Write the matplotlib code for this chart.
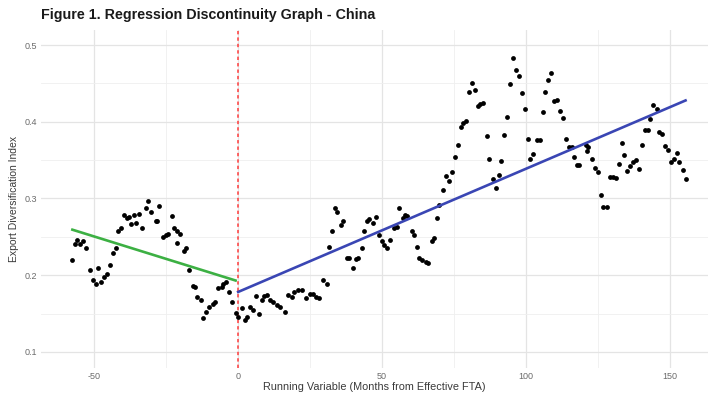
import numpy as np
import matplotlib
matplotlib.use("Agg")
import matplotlib.pyplot as plt
from matplotlib.ticker import MultipleLocator

plt.rcParams['font.family'] = ['Liberation Sans', 'DejaVu Sans']

# ---- data ----
months_pre = [-57.6, -56.7, -55.9, -54.9, -54.0, -52.9, -51.5, -50.3, -49.5, -48.6,
              -47.7, -46.5, -45.7, -44.5, -43.6, -42.4, -41.6, -40.8, -39.7, -38.7,
              -37.8, -37.2, -36.1, -35.5, -34.5, -33.5, -32.0, -31.2, -30.4, -28.7,
              -28.1, -27.4, -26.2, -25.1, -24.3, -23.1, -22.2, -21.4, -21.2, -20.2,
              -18.8, -18.1, -17.0, -15.8, -15.0, -14.2, -13.0, -12.1, -11.2, -10.0,
              -8.9, -8.1, -6.9, -5.7, -5.2, -4.3, -3.1, -2.0, -0.9]
index_pre = [0.220, 0.241, 0.246, 0.240, 0.245, 0.236, 0.207, 0.194, 0.189, 0.209,
             0.191, 0.198, 0.201, 0.213, 0.229, 0.235, 0.257, 0.261, 0.278, 0.275,
             0.276, 0.267, 0.279, 0.268, 0.280, 0.262, 0.288, 0.297, 0.282, 0.271,
             0.270, 0.290, 0.250, 0.253, 0.254, 0.277, 0.262, 0.257, 0.242, 0.254,
             0.231, 0.235, 0.207, 0.186, 0.185, 0.171, 0.168, 0.144, 0.152, 0.158,
             0.162, 0.165, 0.183, 0.184, 0.188, 0.191, 0.178, 0.165, 0.151]

months_post = [0.0, 1.4, 2.4, 3.0, 4.1, 5.0, 6.2, 7.3, 8.2, 9.1,
               10.1, 11.0, 12.2, 13.4, 14.5, 16.3, 17.4, 18.6, 19.4, 20.9,
               22.1, 23.5, 24.9, 26.1, 27.0, 28.2, 29.6, 30.7, 31.6, 32.5,
               33.6, 34.4, 35.6, 36.5, 37.7, 38.6, 39.8, 40.9, 41.7, 42.9,
               43.7, 44.6, 45.5, 46.7, 47.9, 49.0, 49.8, 50.6, 51.6, 52.7,
               54.1, 55.1, 56.0, 57.1, 57.9, 58.7, 60.3, 61.1, 62.0, 62.9,
               63.7, 65.2, 66.0, 67.2, 68.0, 68.9, 69.9, 71.0, 72.2, 73.3,
               74.2, 75.2, 76.2, 77.3, 78.2, 79.1, 80.3, 81.3, 82.3, 83.2,
               84.0, 85.1, 86.3, 87.2, 88.4, 89.5, 90.6, 91.3, 92.4, 93.5,
               94.4, 95.6, 96.5, 97.5, 98.5, 99.5, 100.6, 101.4, 102.5, 103.9,
               104.8, 105.8, 106.6, 107.7, 108.6, 109.7, 110.6, 111.8, 112.7, 113.8,
               115.0, 115.8, 116.7, 117.6, 118.5, 120.7, 121.1, 121.6, 122.8, 123.9,
               124.9, 125.9, 126.8, 128.0, 129.1, 130.3, 131.2, 132.3, 133.2, 134.0,
               135.2, 136.1, 137.0, 138.2, 139.2, 140.2, 141.3, 142.4, 143.0, 144.2,
               145.4, 146.3, 147.3, 148.2, 149.4, 150.2, 151.4, 152.3, 153.2, 154.4,
               155.4]
index_post = [0.145, 0.157, 0.142, 0.146, 0.159, 0.155, 0.173, 0.150, 0.168, 0.173,
              0.174, 0.168, 0.165, 0.161, 0.159, 0.152, 0.174, 0.171, 0.178, 0.181,
              0.181, 0.170, 0.176, 0.176, 0.172, 0.170, 0.194, 0.189, 0.237, 0.257,
              0.287, 0.283, 0.265, 0.271, 0.223, 0.222, 0.209, 0.221, 0.222, 0.235,
              0.257, 0.270, 0.273, 0.268, 0.276, 0.252, 0.244, 0.239, 0.235, 0.246,
              0.261, 0.263, 0.287, 0.274, 0.278, 0.277, 0.257, 0.252, 0.237, 0.222,
              0.220, 0.217, 0.216, 0.245, 0.248, 0.274, 0.291, 0.311, 0.329, 0.323,
              0.334, 0.354, 0.370, 0.393, 0.398, 0.401, 0.439, 0.451, 0.442, 0.420,
              0.423, 0.425, 0.382, 0.351, 0.326, 0.313, 0.331, 0.349, 0.383, 0.406,
              0.449, 0.483, 0.467, 0.459, 0.438, 0.417, 0.378, 0.352, 0.358, 0.376,
              0.376, 0.413, 0.439, 0.455, 0.463, 0.427, 0.429, 0.414, 0.405, 0.378,
              0.367, 0.367, 0.354, 0.344, 0.343, 0.370, 0.362, 0.367, 0.351, 0.340,
              0.334, 0.305, 0.289, 0.289, 0.328, 0.328, 0.327, 0.345, 0.372, 0.357,
              0.336, 0.342, 0.347, 0.350, 0.338, 0.370, 0.389, 0.389, 0.404, 0.422,
              0.417, 0.386, 0.384, 0.368, 0.363, 0.347, 0.351, 0.359, 0.347, 0.337,
              0.326]

x_ticks = [-50, 0, 50, 100, 150]
x_tick_labels = ["-50", "0", "50", "100", "150"]
y_ticks = [0.1, 0.2, 0.3, 0.4, 0.5]
y_tick_labels = ["0.1", "0.2", "0.3", "0.4", "0.5"]
title = "Figure 1. Regression Discontinuity Graph - China"
x_label = "Running Variable (Months from Effective FTA)"
y_label = "Export Diversification Index"

# ---- figure ----
fig = plt.figure(figsize=(7.14, 3.93), dpi=100)
ax = fig.add_axes([41/714, 25/393, 667/714, 338/393])

ax.set_xlim(-68.5, 163.2)
ax.set_ylim(0.079, 0.5196)

ax.set_xticks(x_ticks)
ax.set_xticklabels(x_tick_labels)
ax.set_yticks(y_ticks)
ax.set_yticklabels(y_tick_labels)
ax.xaxis.set_minor_locator(MultipleLocator(25))
ax.yaxis.set_minor_locator(MultipleLocator(0.05))
ax.grid(which='major', color='#e4e4e4', linewidth=0.9)
ax.grid(which='minor', color='#efefef', linewidth=0.6)
ax.set_axisbelow(True)
for s in ax.spines.values():
    s.set_visible(False)
ax.tick_params(which='both', length=0, labelsize=6.5, labelcolor='#6b6b6b', pad=3)

ax.axvline(0, color='#ff3b3b', linestyle=(0, (2.2, 2.0)), linewidth=1.1, zorder=1)

ax.scatter(months_pre, index_pre, s=12, color='black', zorder=3, linewidths=0)
ax.scatter(months_post, index_post, s=12, color='black', zorder=3, linewidths=0)

xp = np.array(months_pre); yp = np.array(index_pre)
b1 = np.polyfit(xp, yp, 1)
xx1 = np.array([xp.min(), xp.max()])
ax.plot(xx1, np.polyval(b1, xx1), color='#3cb043', linewidth=1.9, zorder=4)

xq = np.array(months_post); yq = np.array(index_post)
b2 = np.polyfit(xq, yq, 1)
xx2 = np.array([xq.min(), xq.max()])
ax.plot(xx2, np.polyval(b2, xx2), color='#3a46b4', linewidth=1.9, zorder=4)

ax.set_xlabel(x_label, fontsize=7.8, color='#3a3a3a', labelpad=0.5)
ax.set_ylabel(y_label, fontsize=7.5, color='#3a3a3a', labelpad=4)

fig.text(41/714, 1 - 15/393, title, fontsize=10.3, fontweight='bold',
         color='#1a1a1a', ha='left', va='center')

fig.savefig("out.png", dpi=100, facecolor='white')
